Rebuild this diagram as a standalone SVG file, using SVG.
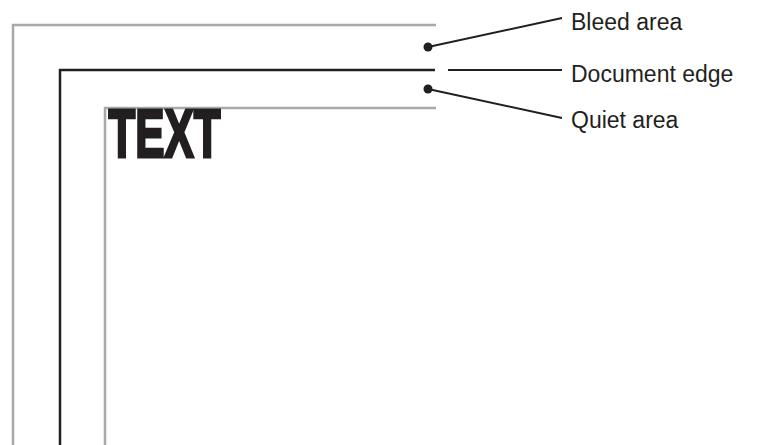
<svg xmlns="http://www.w3.org/2000/svg" width="768" height="445" viewBox="0 0 768 445">
<style>
.gray{fill:none;stroke:#a7a9ac;stroke-width:2.5}
.blk{fill:none;stroke:#231f20;stroke-width:2.5}
.lead{fill:none;stroke:#231f20;stroke-width:2}
.lbl{font-family:"Liberation Sans",Arial,sans-serif;font-size:23px;fill:#231f20}
.big{font-family:"Liberation Sans",Arial,sans-serif;font-weight:bold;font-size:68px;fill:#231f20;stroke:#231f20;stroke-width:3;stroke-linejoin:miter}
</style>
<rect width="768" height="445" fill="#fff"/>
<g id="bleed-area">
<path class="gray" d="M13,445 V25 H436"/>
</g>
<g id="document-edge">
<path class="blk" d="M60,445 V70 H435"/>
</g>
<g id="quiet-area">
<path class="gray" d="M105,445 V108 H436"/>
<text class="big" x="108.5" y="156.5" textLength="112" lengthAdjust="spacingAndGlyphs">TEXT</text>
</g>
<g id="connectors">
<circle cx="428" cy="47" r="4.5" fill="#231f20"/>
<path class="lead" d="M428,47 L562,18"/>
<path class="lead" d="M448,70 H562"/>
<circle cx="428" cy="89" r="4.5" fill="#231f20"/>
<path class="lead" d="M428,89 L562,118"/>
</g>
<g id="labels">
<text class="lbl" x="571" y="30">Bleed area</text>
<text class="lbl" x="571" y="82">Document edge</text>
<text class="lbl" x="571" y="128">Quiet area</text>
</g>
</svg>
